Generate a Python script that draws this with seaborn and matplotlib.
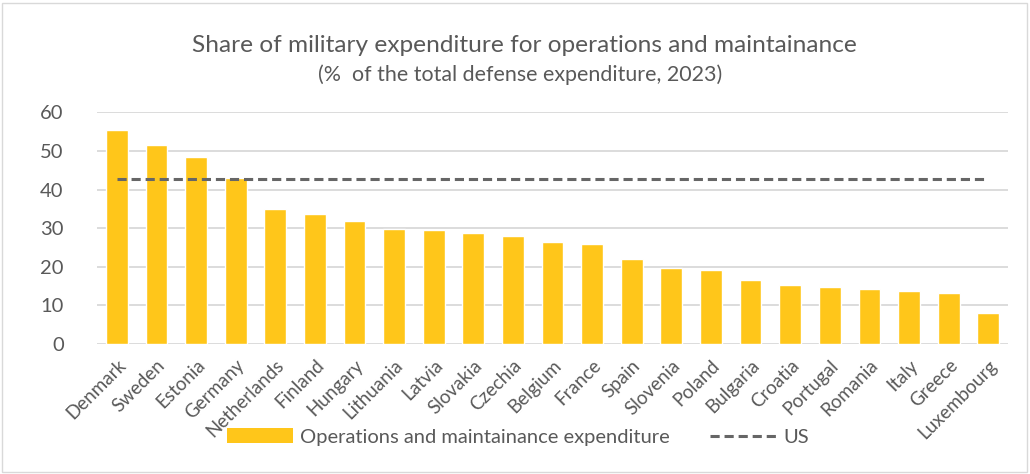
import matplotlib
matplotlib.use("Agg")
import matplotlib.pyplot as plt
import seaborn as sns
import pandas as pd
from matplotlib.lines import Line2D
from matplotlib.patches import Patch

paises = ['Denmark', 'Sweden', 'Estonia', 'Germany', 'Netherlands', 'Finland', 'Hungary',
          'Lithuania', 'Latvia', 'Slovakia', 'Czechia', 'Belgium', 'France', 'Spain',
          'Slovenia', 'Poland', 'Bulgaria', 'Croatia', 'Portugal', 'Romania', 'Italy',
          'Greece', 'Luxembourg']
gasto_om = [55.3, 51.5, 48.4, 43.0, 35.1, 33.6, 31.8, 29.7, 29.5, 28.8, 27.9, 26.5,
            25.8, 22.0, 19.7, 19.1, 16.5, 15.2, 14.7, 14.2, 13.7, 13.2, 8.0]
valor_us = 42.8
yticks = [0, 10, 20, 30, 40, 50, 60]

df = pd.DataFrame({'pais': paises, 'gasto': gasto_om})

sns.set_theme(style="white")
plt.rcParams['font.family'] = ['Lato', 'DejaVu Sans']
cor_texto = '#595959'
amarelo = '#FFC61A'
tracejado = (0, (3, 1.6))

fig = plt.figure(figsize=(10.3, 4.74), dpi=100)
ax = fig.add_axes([0.0942, 0.274, 0.8845, 0.489])

sns.barplot(data=df, x='pais', y='gasto', color=amarelo, width=0.55, ax=ax,
            saturation=1, zorder=3)
# linha de referencia dos EUA
ax.hlines(valor_us, 0, len(paises) - 1, colors='#666666', linestyles=tracejado,
          linewidth=2.2, zorder=4)

ax.set_ylim(0, 60)
ax.set_xlim(-0.5, len(paises) - 0.5)
ax.set_yticks(yticks)
ax.yaxis.grid(True, color='#D9D9D9', linewidth=1.3, zorder=0)
ax.set_axisbelow(True)
for s in ax.spines.values():
    s.set_visible(False)
ax.set_xlabel('')
ax.set_ylabel('')
ax.tick_params(axis='y', labelsize=14.5, labelcolor=cor_texto, length=0, pad=24)
ax.tick_params(axis='x', labelsize=13.5, labelcolor=cor_texto, length=0, pad=9)
plt.setp(ax.get_xticklabels(), rotation=45, ha='right', rotation_mode='anchor')

fig.text(0.509, 0.905, 'Share of military expenditure for operations and maintainance',
         ha='center', va='center', fontsize=17.6, color=cor_texto)
fig.text(0.505, 0.843, '(%  of the total defense expenditure, 2023)',
         ha='center', va='center', fontsize=15.4, color=cor_texto)

handles = [Patch(facecolor=amarelo, edgecolor='none'),
           Line2D([0], [0], color='#666666', linestyle=tracejado, linewidth=2.2)]
fig.legend(handles, ['Operations and maintainance expenditure', 'US'],
           loc='center', bbox_to_anchor=(0.503, 0.078), ncol=2, frameon=False,
           fontsize=14.5, labelcolor=cor_texto, handlelength=3.3, handleheight=0.7,
           columnspacing=2.0, handletextpad=0.35)

fig.patches.append(plt.Rectangle((0.002, 0.004), 0.995, 0.99, transform=fig.transFigure,
                                 fill=False, edgecolor='#D9D9D9', linewidth=1))

fig.savefig('out.png', dpi=100)
